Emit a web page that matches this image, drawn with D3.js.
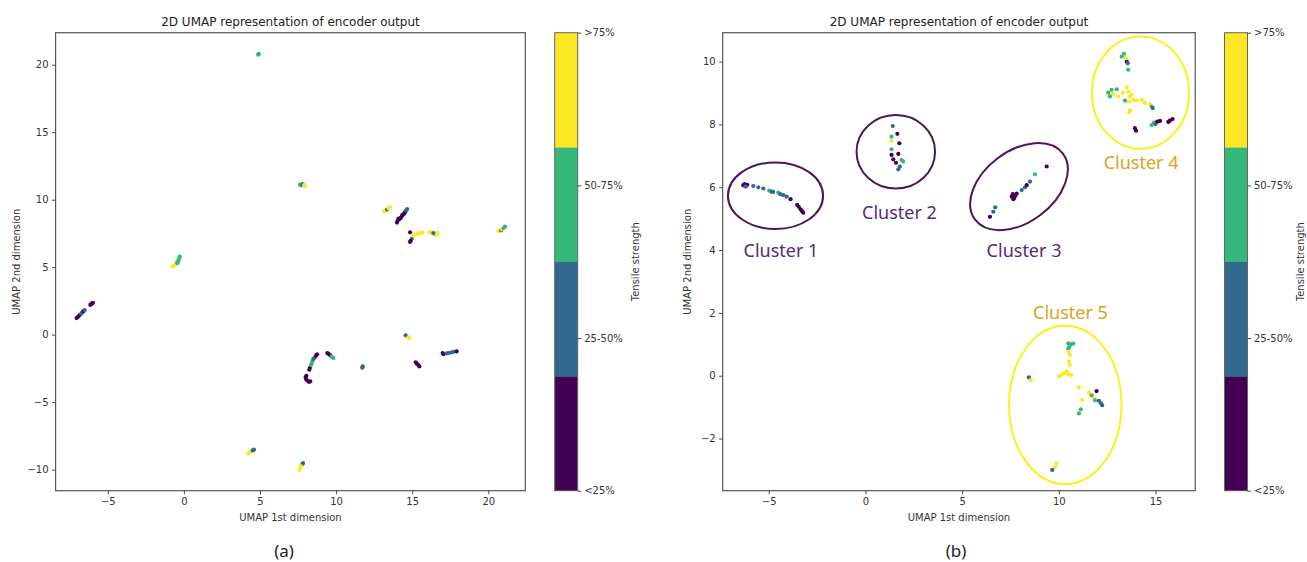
<!DOCTYPE html>
<html>
<head>
<meta charset="utf-8">
<script src="https://cdn.jsdelivr.net/npm/d3@7"></script>
<style>
body { margin: 0; background: #fff; }
text { font-family: "DejaVu Sans", sans-serif; }
</style>
</head>
<body>
<div id="caja"></div>
<script>
// clases de resistencia (0 = <25% ... 3 = >75%)
var strengthLabels = ["<25%", "25-50%", "50-75%", ">75%"];
var classColors = ["#440154", "#31688e", "#35b779", "#fde725"];

// limites y ticks de cada panel
var xLimA = [-8.43, 22.43], yLimA = [-11.56, 22.37];
var xTicksA = [-5, 0, 5, 10, 15, 20], yTicksA = [-10, -5, 0, 5, 10, 15, 20];
var xLimB = [-7.38, 17.05], yLimB = [-3.66, 10.92];
var xTicksB = [-5, 0, 5, 10, 15], yTicksB = [-2, 0, 2, 4, 6, 8, 10];

// puntos panel (a): [x, y, clase]
var pointsA = [
  [4.92, 20.81, 2], [4.88, 20.74, 2],
  [7.62, 11.12, 2], [7.70, 11.05, 2], [7.80, 11.15, 1], [7.90, 11.08, 3], [7.95, 11.02, 3],
  [-0.74, 5.06, 3], [-0.65, 5.12, 3], [-0.55, 5.20, 3], [-0.45, 5.35, 2], [-0.42, 5.30, 2],
  [-0.38, 5.42, 2], [-0.35, 5.55, 2], [-0.30, 5.68, 2], [-0.27, 5.78, 2],
  [-7.05, 1.23, 0], [-6.95, 1.33, 0], [-6.85, 1.45, 0], [-6.75, 1.55, 1], [-6.68, 1.65, 1],
  [-6.60, 1.74, 0], [-6.52, 1.82, 1], [-6.15, 2.20, 0], [-6.08, 2.28, 0], [-6.02, 2.32, 0], [-5.98, 2.36, 0],
  [13.15, 9.13, 3], [13.25, 9.20, 3], [13.35, 9.27, 1], [13.45, 9.35, 3], [13.55, 9.43, 3],
  [14.00, 8.30, 0], [14.05, 8.45, 0], [14.10, 8.60, 0], [14.15, 8.55, 0], [14.25, 8.65, 0],
  [14.32, 8.78, 0], [14.35, 8.85, 0], [14.40, 8.90, 0], [14.48, 8.98, 0], [14.55, 9.10, 0],
  [14.60, 9.20, 1], [14.67, 9.31, 1],
  [14.86, 7.58, 0], [14.97, 7.09, 1], [14.86, 6.87, 0], [14.90, 6.95, 0],
  [15.07, 7.36, 3], [15.20, 7.42, 3], [15.35, 7.48, 3], [15.50, 7.52, 3], [15.65, 7.56, 3],
  [16.13, 7.60, 3], [16.25, 7.55, 3], [16.39, 7.53, 1], [16.50, 7.45, 1], [16.60, 7.40, 3], [16.65, 7.55, 3],
  [20.66, 7.68, 3], [20.78, 7.74, 3], [20.85, 7.72, 1], [20.90, 7.80, 3], [21.00, 7.90, 2], [21.10, 8.00, 2],
  [8.05, -3.05, 0], [8.00, -3.15, 0], [8.02, -3.28, 0], [8.10, -3.40, 0], [8.22, -3.50, 0], [8.30, -3.45, 0],
  [8.24, -2.60, 0], [8.28, -2.45, 0], [8.35, -2.25, 2], [8.40, -2.10, 2], [8.45, -1.95, 2],
  [8.50, -1.80, 1], [8.60, -1.70, 1], [8.68, -1.55, 0], [8.75, -1.46, 0],
  [9.42, -1.36, 0], [9.50, -1.42, 0], [9.60, -1.52, 0], [9.70, -1.62, 2], [9.82, -1.73, 2],
  [11.75, -2.35, 1], [11.72, -2.45, 1],
  [14.57, -0.05, 1], [14.75, -0.20, 3], [14.81, -0.27, 3],
  [15.23, -2.05, 0], [15.30, -2.15, 0], [15.40, -2.25, 0], [15.47, -2.35, 0],
  [17.00, -1.36, 0], [17.05, -1.45, 0], [17.27, -1.38, 1], [17.40, -1.36, 1], [17.55, -1.32, 1],
  [17.70, -1.28, 1], [17.92, -1.24, 0],
  [4.23, -8.81, 3], [4.32, -8.72, 3], [4.42, -8.65, 3], [4.52, -8.58, 1], [4.60, -8.52, 1],
  [7.83, -9.51, 1], [7.78, -9.60, 1], [7.70, -9.75, 3], [7.65, -9.88, 3], [7.60, -10.02, 3]
];

// puntos panel (b)
var pointsB = [
  // cluster 1
  [-6.32, 6.06, 0], [-6.25, 6.10, 0], [-6.18, 6.04, 0], [-6.11, 6.08, 0], [-6.20, 6.02, 1],
  [-5.80, 6.04, 1], [-5.54, 6.00, 1], [-5.28, 5.96, 1], [-4.97, 5.89, 2], [-4.85, 5.86, 1],
  [-4.77, 5.85, 1], [-4.51, 5.83, 2], [-4.40, 5.78, 1], [-4.25, 5.75, 1], [-4.07, 5.70, 1],
  [-3.87, 5.62, 0], [-3.53, 5.44, 0], [-3.45, 5.38, 0], [-3.35, 5.30, 0], [-3.28, 5.24, 0], [-3.22, 5.19, 0],
  // cluster 2
  [1.41, 7.95, 1], [1.35, 7.61, 2], [1.35, 7.48, 3], [1.65, 7.70, 0], [1.75, 7.40, 0],
  [1.35, 7.21, 2], [1.70, 7.06, 0], [1.35, 7.03, 0], [1.44, 6.89, 0], [1.58, 6.78, 0],
  [1.87, 6.87, 2], [1.78, 6.66, 1], [1.70, 6.57, 1], [1.95, 6.82, 2],
  // cluster 3
  [6.44, 5.06, 0], [6.61, 5.22, 1], [6.71, 5.36, 1],
  [7.56, 5.70, 0], [7.62, 5.78, 0], [7.70, 5.66, 0], [7.75, 5.74, 0], [7.82, 5.80, 0], [7.65, 5.62, 0],
  [8.08, 5.91, 1], [8.25, 6.00, 1], [8.34, 6.07, 0], [8.51, 6.18, 1], [8.77, 6.41, 2], [9.37, 6.66, 0],
  // cluster 4
  [13.25, 10.16, 2], [13.37, 10.25, 2], [13.51, 10.00, 0], [13.47, 10.11, 3], [13.56, 9.95, 1], [13.59, 9.74, 2],
  [12.55, 9.01, 2], [12.73, 9.10, 2], [12.99, 9.12, 2], [12.81, 8.97, 3], [12.64, 8.89, 2],
  [13.07, 8.89, 3], [13.30, 9.01, 3], [13.42, 8.76, 2], [13.51, 9.18, 3], [13.59, 9.04, 3],
  [13.68, 8.89, 3], [13.76, 8.94, 3], [13.85, 8.78, 3], [13.64, 8.73, 3], [13.68, 8.46, 3],
  [13.64, 8.38, 3], [14.02, 8.76, 3], [14.28, 8.78, 3], [14.45, 8.69, 3], [14.71, 8.65, 3],
  [14.80, 8.57, 2], [14.85, 8.52, 1],
  [14.80, 7.98, 2], [14.92, 8.06, 2], [15.00, 8.01, 1], [15.09, 8.09, 0], [15.23, 8.11, 0],
  [15.66, 8.08, 0], [15.74, 8.12, 0], [15.88, 8.17, 0], [13.93, 7.88, 0], [13.99, 7.80, 0],
  // cluster 5
  [10.49, 1.03, 2], [10.60, 1.00, 2], [10.74, 1.02, 2], [10.55, 0.92, 2], [10.49, 0.87, 2],
  [10.49, 0.76, 3], [10.57, 0.66, 3], [10.52, 0.45, 3], [10.57, 0.34, 3],
  [10.40, 0.13, 3], [10.28, 0.08, 3], [10.14, 0.02, 3], [10.01, -0.01, 3], [10.63, 0.02, 3], [10.50, 0.05, 3],
  [8.45, -0.05, 1], [8.56, -0.14, 3],
  [11.04, -0.37, 3], [11.21, -0.77, 3], [11.95, -0.49, 0],
  [11.56, -0.54, 3], [11.66, -0.61, 3], [11.70, -0.63, 2], [11.83, -0.72, 3], [11.87, -0.78, 2],
  [12.07, -0.80, 1], [12.18, -0.88, 1], [12.24, -0.94, 1],
  [11.14, -1.07, 2], [11.04, -1.20, 2],
  [9.88, -2.79, 3], [9.80, -2.90, 3], [9.66, -3.00, 1]
];

// anotaciones del panel (b)
var clusterNames = ["Cluster 1", "Cluster 2", "Cluster 3", "Cluster 4", "Cluster 5"];
var clusterEllipses = [
  {cx: -4.65, cy: 5.73, rx: 2.46, ry: 1.06, rot: 0, tone: 0},
  {cx: 1.57, cy: 7.13, rx: 2.03, ry: 1.17, rot: 0, tone: 0},
  {cx: 7.94, cy: 6.02, rx: 2.84, ry: 1.13, rot: -37, tone: 0},
  {cx: 14.22, cy: 9.01, rx: 2.51, ry: 1.79, rot: 0, tone: 1},
  {cx: 10.33, cy: -0.93, rx: 2.91, ry: 2.52, rot: 0, tone: 1}
];
var clusterLabelPos = [[-4.37, 4.0], [1.76, 5.22], [8.2, 4.0], [14.25, 6.8], [10.6, 2.04]];
var toneStroke = ["#4a1858", "#f7f21c"];
var toneText = ["#5a2a70", "#d8a424"];

var w = 1307, h = 562;

var svg = d3.select('#caja')
  .append('svg')
  .attr('width', w)
  .attr('height', h)
  .style("background", "#fff");

function drawPanel(p) {
  var x = d3.scaleLinear().domain(p.xLim).range([p.left, p.right]);
  var y = d3.scaleLinear().domain(p.yLim).range([p.bottom, p.top]);
  var g = svg.append("g");

  // ejes
  var xAxis = g.append("g")
    .attr("transform", "translate(0," + p.bottom + ")")
    .call(d3.axisBottom(x).tickValues(p.xTicks).tickSizeOuter(0).tickSize(3.5).tickPadding(3.5));
  var yAxis = g.append("g")
    .attr("transform", "translate(" + p.left + ",0)")
    .call(d3.axisLeft(y).tickValues(p.yTicks).tickSizeOuter(0).tickSize(3.5).tickPadding(3.5));
  [xAxis, yAxis].forEach(function(a) {
    a.select(".domain").remove();
    a.selectAll("line").attr("stroke", "#444");
    a.selectAll("text").attr("font-size", "10px").attr("fill", "#333")
      .style("font-family", "DejaVu Sans, sans-serif");
  });

  // puntos
  g.append("g").selectAll("circle")
    .data(p.points)
    .enter()
    .append("circle")
    .attr("cx", function(d) { return x(d[0]); })
    .attr("cy", function(d) { return y(d[1]); })
    .attr("r", 2.1)
    .style("fill", function(d) { return classColors[d[2]]; });

  // marco
  g.append("rect")
    .attr("x", p.left).attr("y", p.top)
    .attr("width", p.right - p.left).attr("height", p.bottom - p.top)
    .attr("fill", "none").attr("stroke", "#555").attr("stroke-width", 1.2);

  // textos
  g.append("text").text("2D UMAP representation of encoder output")
    .attr("x", (p.left + p.right) / 2).attr("y", 26)
    .attr("text-anchor", "middle").attr("font-size", "12px").attr("fill", "#222");
  g.append("text").text("UMAP 1st dimension")
    .attr("x", (p.left + p.right) / 2).attr("y", 521)
    .attr("text-anchor", "middle").attr("font-size", "10px").attr("fill", "#333");
  g.append("text").text("UMAP 2nd dimension")
    .attr("transform", "translate(" + p.ylabelX + "," + (p.top + p.bottom) / 2 + ") rotate(-90)")
    .attr("text-anchor", "middle").attr("font-size", "10px").attr("fill", "#333");
  g.append("text").text(p.letter)
    .attr("x", p.letterX).attr("y", 557)
    .attr("text-anchor", "middle").attr("font-size", "17px").attr("fill", "#222")
    .style("font-family", "Noto Sans, sans-serif");

  // barra de color: 4 franjas iguales, de abajo (<25%) hacia arriba (>75%)
  var cbY = d3.scaleLinear().domain([0, 4]).range([p.bottom, p.top]);
  g.append("g").selectAll("rect")
    .data(classColors)
    .enter()
    .append("rect")
    .attr("x", p.cbX)
    .attr("y", function(d, i) { return cbY(i + 1); })
    .attr("width", 23)
    .attr("height", function(d, i) { return cbY(i) - cbY(i + 1) + 0.3; })
    .attr("fill", function(d) { return d; });
  g.append("rect")
    .attr("x", p.cbX).attr("y", p.top).attr("width", 23).attr("height", p.bottom - p.top)
    .attr("fill", "none").attr("stroke", "#666").attr("stroke-width", 1);
  var cbTick = d3.scaleLinear().domain([0, 3]).range([p.bottom, p.top]);
  var cbAxis = g.append("g")
    .attr("transform", "translate(" + (p.cbX + 23) + ",0)")
    .call(d3.axisRight(cbTick).tickValues([0, 1, 2, 3])
      .tickFormat(function(d) { return strengthLabels[d]; })
      .tickSize(3.5).tickPadding(3));
  cbAxis.select(".domain").remove();
  cbAxis.selectAll("line").attr("stroke", "#444");
  cbAxis.selectAll("text").attr("font-size", "10px").attr("fill", "#333")
    .style("font-family", "DejaVu Sans, sans-serif");
  g.append("text").text("Tensile strength")
    .attr("transform", "translate(" + (p.cbX + p.cbLabelOff) + "," + (p.top + p.bottom) / 2 + ") rotate(-90)")
    .attr("text-anchor", "middle").attr("dominant-baseline", "central")
    .attr("font-size", "10px").attr("fill", "#333");

  return {x: x, y: y, g: g};
}

drawPanel({
  left: 55.6, right: 525.3, top: 32.7, bottom: 490.7,
  xLim: xLimA, yLim: yLimA, xTicks: xTicksA, yTicks: yTicksA,
  points: pointsA, cbX: 554.7, cbLabelOff: 81, ylabelX: 20, letter: "(a)", letterX: 284
});

// en (b) la etiqueta queda pegada al borde derecho
var pb = drawPanel({
  left: 722.7, right: 1195.2, top: 32.7, bottom: 490.7,
  xLim: xLimB, yLim: yLimB, xTicks: xTicksB, yTicks: yTicksB,
  points: pointsB, cbX: 1224.5, cbLabelOff: 76, ylabelX: 691, letter: "(b)", letterX: 956
});

// elipses y nombres de clusters
pb.g.append("g").selectAll("ellipse")
  .data(clusterEllipses)
  .enter()
  .append("ellipse")
  .attr("cx", 0).attr("cy", 0)
  .attr("rx", function(d) { return pb.x(d.rx) - pb.x(0); })
  .attr("ry", function(d) { return pb.y(0) - pb.y(d.ry); })
  .attr("transform", function(d) {
    return "translate(" + pb.x(d.cx) + "," + pb.y(d.cy) + ") rotate(" + d.rot + ")";
  })
  .attr("fill", "none")
  .attr("stroke", function(d) { return toneStroke[d.tone]; })
  .attr("stroke-width", 2);

pb.g.append("g").selectAll("text")
  .data(clusterNames)
  .enter()
  .append("text")
  .text(function(d) { return d; })
  .attr("x", function(d, i) { return pb.x(clusterLabelPos[i][0]); })
  .attr("y", function(d, i) { return pb.y(clusterLabelPos[i][1]); })
  .attr("text-anchor", "middle")
  .attr("dominant-baseline", "central")
  .attr("font-size", "18px")
  .style("font-family", "Noto Sans, sans-serif")
  .attr("fill", function(d, i) { return toneText[clusterEllipses[i].tone]; });
</script>
</body>
</html>
